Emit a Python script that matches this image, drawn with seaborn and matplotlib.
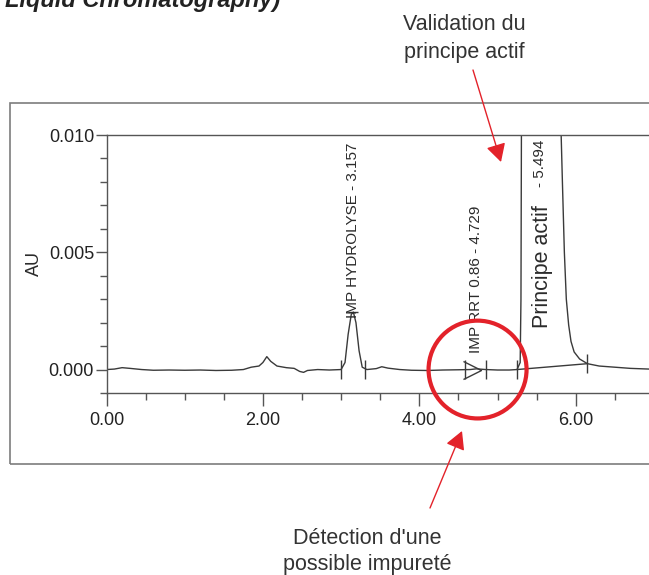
import numpy as np
import pandas as pd
import matplotlib.pyplot as plt
from matplotlib.patches import Ellipse, Rectangle
from matplotlib.ticker import MultipleLocator, FormatStrFormatter
import seaborn as sns

# chromatogram trace (retention time in min, absorbance in AU)
rt = [0.00, 0.10, 0.20, 0.30, 0.45, 0.60, 0.80, 1.00, 1.20, 1.40, 1.60, 1.75,
      1.85, 1.95, 2.00, 2.05, 2.10, 2.18, 2.30, 2.40, 2.47, 2.52, 2.57, 2.70,
      2.85, 3.00, 3.05, 3.09, 3.13, 3.157, 3.19, 3.23, 3.27, 3.33, 3.45, 3.52,
      3.60, 3.75, 3.90, 4.10, 4.30, 4.50, 4.65, 4.729, 4.85, 5.00, 5.15, 5.25,
      5.29, 5.30, 5.31, 5.494, 5.79, 5.81, 5.83, 5.855, 5.88, 5.91, 5.94, 5.98,
      6.05, 6.15, 6.30, 6.50, 6.70, 6.94]
au = [0.00000, 0.00002, 0.00008, 0.00005, 0.00000, -0.00003, -0.00002, -0.00003,
      -0.00002, -0.00004, -0.00003, 0.00000, 0.00010, 0.00015, 0.00030, 0.00055,
      0.00035, 0.00015, 0.00008, 0.00005, -0.00008, -0.00012, -0.00004, 0.00000,
      -0.00002, 0.00000, 0.00030, 0.00150, 0.00235, 0.00245, 0.00200, 0.00080,
      0.00010, 0.00000, 0.00004, 0.00012, 0.00006, 0.00000, -0.00003, -0.00004,
      -0.00002, -0.00001, 0.00000, 0.00003, 0.00000, -0.00002, -0.00002, 0.00000,
      0.00030, 0.00300, 0.01500, 0.04000, 0.01500, 0.01050, 0.00800, 0.00500,
      0.00300, 0.00190, 0.00120, 0.00075, 0.00045, 0.00025, 0.00015, 0.00010,
      0.00005, 0.00002]

# integration baseline under the main peak
base_rt = [5.25, 6.15]
base_au = [0.00000, 0.00025]

# peak start / end marks
bound_rt = [3.00, 3.31, 4.59, 4.85, 5.25, 6.15]
bound_au = [0.00000, 0.00000, 0.00000, 0.00000, 0.00000, 0.00025]

# peak labels
peak_rt = [3.157, 4.729]
peak_au = [0.00245, 0.00000]
peak_names = ["IMP HYDROLYSE - 3.157", "IMP RRT 0.86 - 4.729"]

W, H = 649, 575
RED = "#e3222a"
INK = "#2b2b2b"
AXC = "#555555"


def fp(x, y):
    # image pixel -> figure fraction
    return (x / W, 1 - y / H)


sns.set_style("ticks")
plt.rcParams['font.family'] = ['Liberation Sans', 'DejaVu Sans']

fig = plt.figure(figsize=(W / 100, H / 100), dpi=100)
ax = fig.add_axes([106.5 / W, (H - 393) / H, (W - 106.5) / W, (393 - 135) / H])

df = pd.DataFrame({"rt": rt, "au": au})
sns.lineplot(data=df, x="rt", y="au", ax=ax, color="#3a3a3a", lw=1.0,
             sort=False, estimator=None)
sns.lineplot(x=base_rt, y=base_au, ax=ax, color="#3a3a3a", lw=1.0, estimator=None)

ax.vlines(bound_rt, np.array(bound_au) - 0.0004, np.array(bound_au) + 0.0004,
          color="#3a3a3a", lw=1.0)
# apex marks
ax.plot(peak_rt[0], peak_au[0], marker="_", ms=7, color="#3a3a3a", mew=1.0)
ax.plot(4.68, peak_au[1], marker=[(-1, 1), (1, 0), (-1, -1)], ms=13,
        mfc="none", mec="#3a3a3a", mew=1.0)

ax.set_xlim(0, (W - 106.5) / 78.2)
ax.set_ylim(-0.001, 0.010)

ax.set_xticks([0, 2, 4, 6])
ax.xaxis.set_minor_locator(MultipleLocator(0.5))
ax.set_yticks([0.0, 0.005, 0.010])
ax.yaxis.set_minor_locator(MultipleLocator(0.001))
ax.xaxis.set_major_formatter(FormatStrFormatter("%.2f"))
ax.yaxis.set_major_formatter(FormatStrFormatter("%.3f"))

ax.spines["right"].set_visible(False)
for s in ["top", "left", "bottom"]:
    ax.spines[s].set_color(AXC)
    ax.spines[s].set_linewidth(1.0)
ax.tick_params(which="major", direction="out", length=8, width=1.0, color=AXC,
               labelsize=13, labelcolor="#222222", pad=1)
ax.tick_params(axis="x", which="major", length=9, pad=5)
ax.tick_params(which="minor", direction="out", length=5, width=1.0, color=AXC)

ax.set_xlabel("")
ax.set_ylabel("AU", fontsize=13, color=INK)
ax.yaxis.set_label_coords((43 - 106.5) / (W - 106.5), 0.5)

# peak labels
ax.text(peak_rt[0], 0.00221, peak_names[0], rotation=90, ha="center", va="bottom",
        fontsize=11, color=INK)
ax.text(peak_rt[1], 0.00072, peak_names[1], rotation=90, ha="center", va="bottom",
        fontsize=11, color=INK)
ax.text(5.575, 0.00179, "Principe actif", rotation=90, ha="center", va="bottom",
        fontsize=15.5, color=INK)
ax.text(5.54, 0.00779, "- 5.494", rotation=90, ha="center", va="bottom",
        fontsize=11, color=INK)

# red circle round the impurity
ax.add_patch(Ellipse((4.745, 0.0), 49 * 2 / 78.2, 49 * 2 / 23.5 * 0.001,
                     fill=False, ec=RED, lw=3, clip_on=False, zorder=5))

# outer frame
fig.add_artist(Rectangle(fp(10, 464), 1.0, (464 - 103) / H, transform=fig.transFigure,
                         fill=False, ec="#7d7d7d", lw=1.2, zorder=0))

# texts around
fig.text(*fp(5, 7), "Liquid Chromatography)", ha="left", va="baseline",
         fontsize=17, style="italic", weight="bold", color="#222222")
fig.text(*fp(464, 30), "Validation du", ha="center", va="baseline",
         fontsize=15.5, color="#333333")
fig.text(*fp(464, 58), "principe actif", ha="center", va="baseline",
         fontsize=15.5, color="#333333")
fig.text(*fp(367, 544), "Détection d'une", ha="center", va="baseline",
         fontsize=15.5, color="#333333")
fig.text(*fp(367, 570), "possible impureté", ha="center", va="baseline",
         fontsize=15.5, color="#333333")

arrow = dict(arrowstyle="-|>,head_length=0.55,head_width=0.3", color=RED, lw=1.0,
             mutation_scale=20, shrinkA=0, shrinkB=0)
ax.annotate("", xy=fp(501, 162), xytext=fp(473, 70), xycoords="figure fraction",
            textcoords="figure fraction", arrowprops=arrow, annotation_clip=False)
ax.annotate("", xy=fp(462, 431), xytext=fp(430, 508), xycoords="figure fraction",
            textcoords="figure fraction", arrowprops=arrow, annotation_clip=False)

fig.savefig("out.png", dpi=100)
